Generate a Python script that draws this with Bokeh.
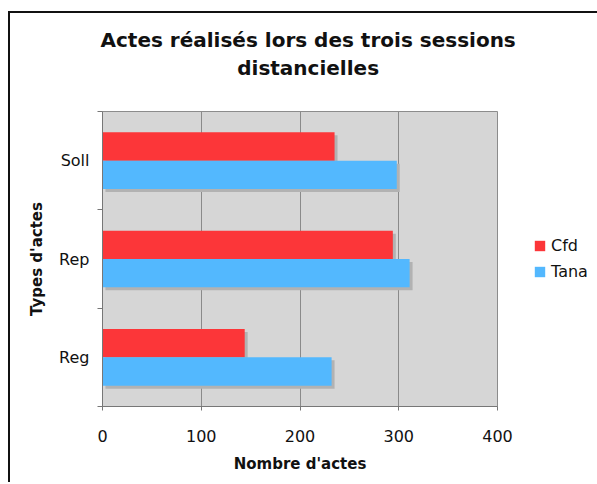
from bokeh.plotting import figure
from bokeh.models import (ColumnDataSource, Range1d, FixedTicker, Title, Legend,
                          LegendItem, CustomJSTickFormatter)
from bokeh.embed import file_html
from bokeh.resources import INLINE

# ---- data ----
categories = ["Reg", "Rep", "Soll"]          # bottom -> top
cfd = [144, 294, 235]
tana = [232, 311, 298]
series_names = ["Cfd", "Tana"]
x_ticks = [0, 100, 200, 300, 400]
title_lines = ["Actes réalisés lors des trois sessions", "distancielles"]

RED = "#fc3639"
BLUE = "#53b8fe"
SHADOW = "#b2b2b2"
BG = "#d6d6d6"
FONT = "DejaVu Sans"

bar_h = 0.288
centers = [i + 0.5 for i in range(len(categories))]

src_cfd = ColumnDataSource(dict(y=[c + bar_h / 2 for c in centers], right=cfd))
src_tana = ColumnDataSource(dict(y=[c - bar_h / 2 for c in centers], right=tana))
# shadows (offset ~3px right / down)
sx_off = 3.0
sy_off = 3.0 / 98.3
src_cfd_sh = ColumnDataSource(dict(y=[c + bar_h / 2 - sy_off for c in centers],
                                   left=[sx_off] * len(cfd),
                                   right=[v + sx_off for v in cfd]))
src_tana_sh = ColumnDataSource(dict(y=[c - bar_h / 2 - sy_off for c in centers],
                                    left=[sx_off] * len(tana),
                                    right=[v + sx_off for v in tana]))

p = figure(output_backend="svg", toolbar_location=None,
           frame_width=395, frame_height=295,
           min_border_left=92, min_border_top=98, min_border_right=100,
           min_border_bottom=76,
           x_range=Range1d(0, 400), y_range=Range1d(0, 3))
p.styles = {"border-left": "2px solid #111111", "border-top": "2px solid #111111",
            "margin-top": "11px", "margin-left": "8px"}

p.background_fill_color = BG
p.border_fill_color = "white"
p.outline_line_color = "#8c8c8c"
p.outline_line_width = 1

p.hbar(y="y", left="left", right="right", height=bar_h, source=src_cfd_sh,
       color=SHADOW, line_color=None)
p.hbar(y="y", left="left", right="right", height=bar_h, source=src_tana_sh,
       color=SHADOW, line_color=None)
r1 = p.hbar(y="y", left=0, right="right", height=bar_h, source=src_cfd,
            fill_color=RED, line_color=None)
r2 = p.hbar(y="y", left=0, right="right", height=bar_h, source=src_tana,
            fill_color=BLUE, line_color=None)

# grid
p.xgrid.ticker = FixedTicker(ticks=x_ticks)
p.xgrid.grid_line_color = "#8a8a8a"
p.xgrid.grid_line_width = 1
p.ygrid.grid_line_color = None

# x axis
xa = p.xaxis[0]
xa.ticker = FixedTicker(ticks=x_ticks)
xa.axis_line_color = "#777777"
xa.major_tick_line_color = "#777777"
xa.major_tick_out = 4
xa.major_tick_in = 0
xa.minor_tick_line_color = None
xa.major_label_text_font = FONT
xa.major_label_text_font_size = "16px"
xa.major_label_text_color = "#111111"
xa.major_label_standoff = 19
xa.axis_label = "Nombre d'actes"
xa.axis_label_text_font = FONT
xa.axis_label_text_font_style = "bold"
xa.axis_label_text_font_size = "15px"
xa.axis_label_text_color = "#111111"
xa.axis_label_standoff = 10

# y axis: labels at category centres, tick marks at boundaries
ya = p.yaxis[0]
ya.ticker = FixedTicker(ticks=centers, minor_ticks=[0, 1, 2, 3])
ya.formatter = CustomJSTickFormatter(args=dict(cats=categories),
                                     code="return cats[Math.floor(tick)];")
ya.axis_line_color = "#777777"
ya.major_tick_out = 0
ya.major_tick_in = 0
ya.minor_tick_line_color = "#777777"
ya.minor_tick_out = 5
ya.minor_tick_in = 0
ya.major_label_text_font = FONT
ya.major_label_text_font_size = "16px"
ya.major_label_text_color = "#111111"
ya.major_label_standoff = 8
ya.axis_label = "Types d'actes"
ya.axis_label_text_font = FONT
ya.axis_label_text_font_style = "bold"
ya.axis_label_text_font_size = "15px"
ya.axis_label_text_color = "#111111"
ya.axis_label_standoff = 10

# two-line centred title (a blank third line lifts it off the frame)
p.add_layout(Title(text="\n".join(title_lines + ["\u00a0"]), align="left", offset=-2,
                   text_align="center",
                   text_font=FONT, text_font_style="bold", text_font_size="20px",
                   text_color="#111111", text_line_height=1.15, standoff=8),
             "above")

legend = Legend(items=[LegendItem(label=series_names[0], renderers=[r1]),
                       LegendItem(label=series_names[1], renderers=[r2])],
                location=(36, 125), orientation="vertical",
                background_fill_alpha=0, border_line_color=None,
                glyph_width=13, glyph_height=13, label_height=20, spacing=6,
                label_text_font=FONT, label_text_font_size="16px",
                label_text_color="#111111", label_standoff=5, padding=4, margin=0)
p.add_layout(legend, "right")

open("out.html", "w").write(file_html(p, INLINE))
